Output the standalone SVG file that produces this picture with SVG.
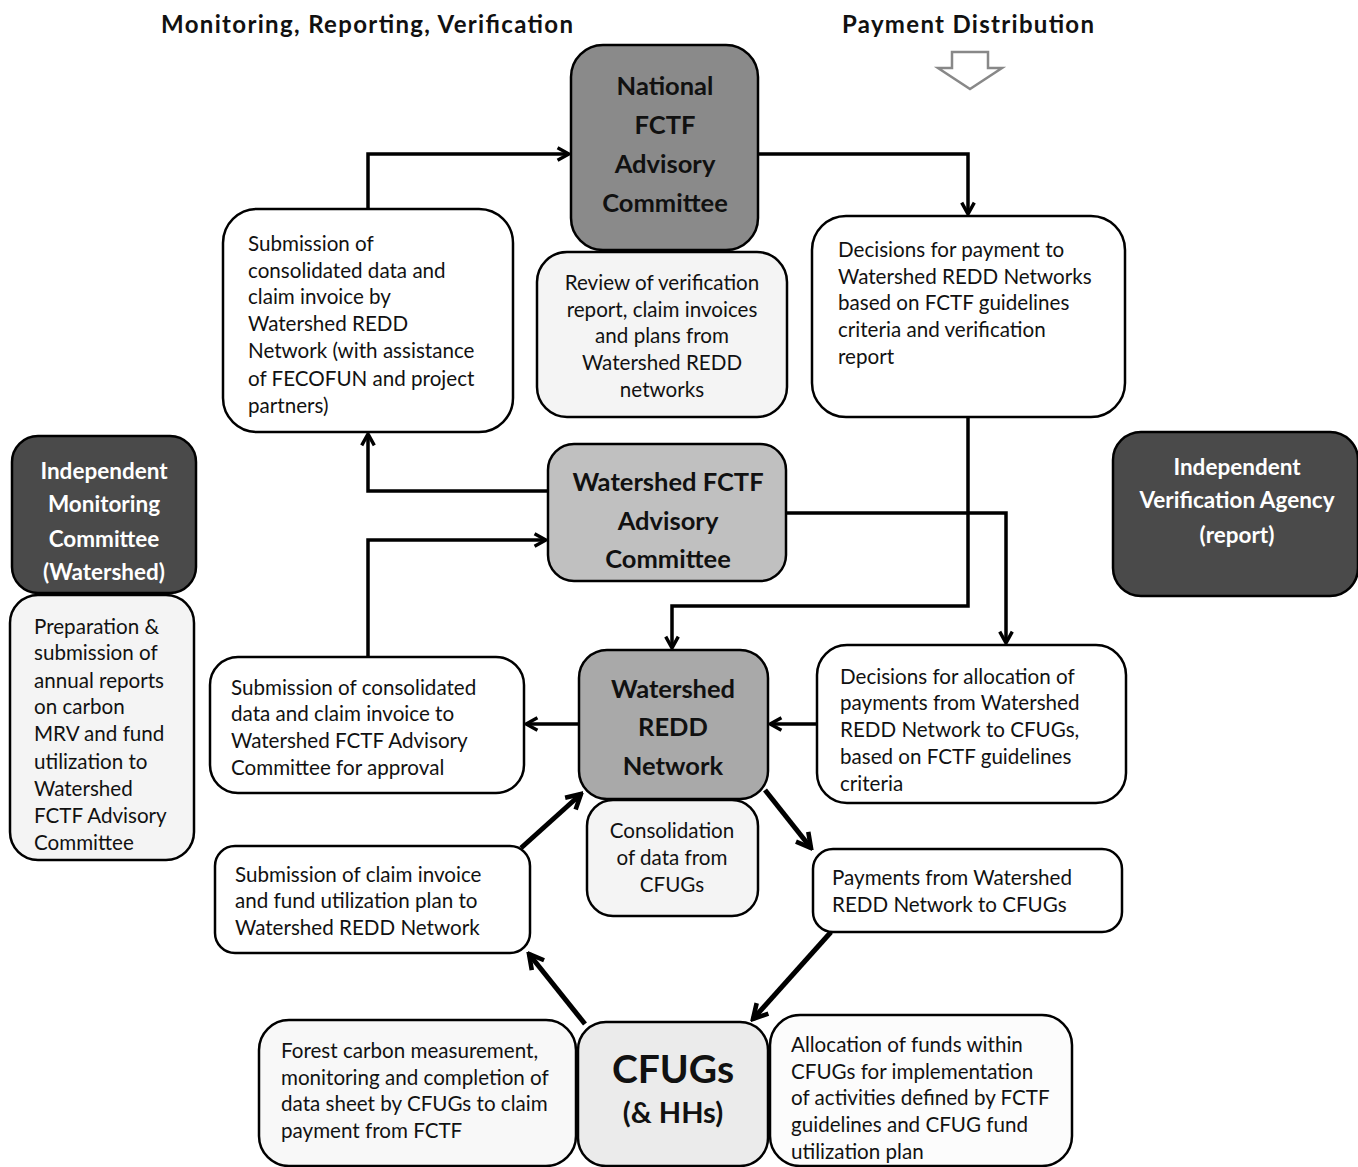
<svg xmlns="http://www.w3.org/2000/svg" width="1358" height="1167" viewBox="0 0 1358 1167">
<style>
.box{stroke:#000;stroke-width:2.5}
.t{font-family:Lato,"Open Sans","Liberation Sans",sans-serif;font-size:20.6px;fill:#111}
.h{font-family:Lato,"Open Sans","Liberation Sans",sans-serif;font-weight:bold;fill:#111}
.w{fill:#fff}
.c{stroke:#000;stroke-width:3.5;fill:none}
.d{stroke:#000;stroke-width:5;fill:none}
</style>
<defs>
<marker id="a" viewBox="0 0 14 14" refX="12" refY="7" markerWidth="16" markerHeight="16" markerUnits="userSpaceOnUse" orient="auto">
<path d="M2,1.5 L12,7 L2,12.5" fill="none" stroke="#000" stroke-width="3"/>
</marker>
<marker id="b" viewBox="0 0 14 14" refX="12" refY="7" markerWidth="20" markerHeight="20" markerUnits="userSpaceOnUse" orient="auto">
<path d="M2,1.5 L12,7 L2,12.5" fill="none" stroke="#000" stroke-width="3.2"/>
</marker>
</defs>
<rect width="1358" height="1167" fill="#fff"/>
<g id="titles">
<text class="h" x="161" y="33" font-size="24" textLength="412" lengthAdjust="spacing">Monitoring, Reporting, Verification</text>
<text class="h" x="842" y="33" font-size="24" textLength="252" lengthAdjust="spacing">Payment Distribution</text>
<path d="M952,52 H988 V68 H1002 L970,89 L938,68 H952 Z" fill="#fff" stroke="#888" stroke-width="2.5"/>
</g>
<g id="connectors">
<path class="c" d="M368,209 V154 H569" marker-end="url(#a)"/>
<path class="c" d="M758,154 H968 V214" marker-end="url(#a)"/>
<path class="c" d="M548,491 H368 V434" marker-end="url(#a)"/>
<path class="c" d="M368,657 V540 H546" marker-end="url(#a)"/>
<path class="c" d="M968,417 V606 H672 V648" marker-end="url(#a)"/>
<path class="c" d="M786,513 H1006 V643" marker-end="url(#a)"/>
<path class="c" d="M579,724 H526" marker-end="url(#a)"/>
<path class="c" d="M817,724 H770" marker-end="url(#a)"/>
<path class="d" d="M521,848 L581,794" marker-end="url(#b)"/>
<path class="d" d="M765,790 L811,848" marker-end="url(#b)"/>
<path class="d" d="M831,932 L753,1019" marker-end="url(#b)"/>
<path class="d" d="M585,1024 L529,954" marker-end="url(#b)"/>
</g>
<g id="national">
<rect class="box" x="571" y="45" width="187" height="205" rx="32" fill="#8a8a8a"/>
<text class="h" font-size="25.5" text-anchor="middle" x="665"><tspan x="665" y="95">National</tspan><tspan x="665" y="134">FCTF</tspan><tspan x="665" y="173">Advisory</tspan><tspan x="665" y="212">Committee</tspan></text>
</g>
<g id="review">
<rect class="box" x="537" y="252" width="250" height="165" rx="30" fill="#f4f4f4"/>
<text class="t" text-anchor="middle"><tspan x="662" y="290">Review of verification</tspan><tspan x="662" y="317">report, claim invoices</tspan><tspan x="662" y="343">and plans from</tspan><tspan x="662" y="370">Watershed REDD</tspan><tspan x="662" y="397">networks</tspan></text>
</g>
<g id="submission-top">
<rect class="box w" x="223" y="209" width="290" height="223" rx="34"/>
<text class="t"><tspan x="248" y="251">Submission of</tspan><tspan x="248" y="278">consolidated data and</tspan><tspan x="248" y="304">claim invoice by</tspan><tspan x="248" y="331">Watershed REDD</tspan><tspan x="248" y="358">Network (with assistance</tspan><tspan x="248" y="386">of FECOFUN and project</tspan><tspan x="248" y="413">partners)</tspan></text>
</g>
<g id="decisions-payment">
<rect class="box w" x="812" y="216" width="313" height="201" rx="34"/>
<text class="t"><tspan x="838" y="257">Decisions for payment to</tspan><tspan x="838" y="284">Watershed REDD Networks</tspan><tspan x="838" y="310">based on FCTF guidelines</tspan><tspan x="838" y="337">criteria and verification</tspan><tspan x="838" y="364">report</tspan></text>
</g>
<g id="monitoring-committee">
<rect class="box" x="12" y="436" width="184" height="157" rx="26" fill="#4a4a4a"/>
<text class="h" font-size="22.5" text-anchor="middle" style="fill:#fff"><tspan x="104" y="479">Independent</tspan><tspan x="104" y="512">Monitoring</tspan><tspan x="104" y="547">Committee</tspan><tspan x="104" y="580">(Watershed)</tspan></text>
</g>
<g id="preparation">
<rect class="box" x="10" y="595" width="184" height="265" rx="28" fill="#f4f4f4"/>
<text class="t"><tspan x="34" y="634">Preparation &amp;</tspan><tspan x="34" y="660">submission of</tspan><tspan x="34" y="688">annual reports</tspan><tspan x="34" y="714">on carbon</tspan><tspan x="34" y="741">MRV and fund</tspan><tspan x="34" y="769">utilization to</tspan><tspan x="34" y="796">Watershed</tspan><tspan x="34" y="823">FCTF Advisory</tspan><tspan x="34" y="850">Committee</tspan></text>
</g>
<g id="watershed-fctf">
<rect class="box" x="548" y="444" width="238" height="137" rx="26" fill="#c0c0c0"/>
<text class="h" font-size="25.5" text-anchor="middle"><tspan x="668" y="491">Watershed FCTF</tspan><tspan x="668" y="530">Advisory</tspan><tspan x="668" y="568">Committee</tspan></text>
</g>
<g id="verification-agency">
<rect class="box" x="1113" y="432" width="245" height="164" rx="28" fill="#4a4a4a"/>
<text class="h" font-size="22.5" text-anchor="middle" style="fill:#fff"><tspan x="1237" y="475">Independent</tspan><tspan x="1237" y="508">Verification Agency</tspan><tspan x="1237" y="543">(report)</tspan></text>
</g>
<g id="watershed-redd">
<rect class="box" x="579" y="650" width="189" height="149" rx="28" fill="#a9a9a9"/>
<text class="h" font-size="25.5" text-anchor="middle"><tspan x="673" y="698">Watershed</tspan><tspan x="673" y="736">REDD</tspan><tspan x="673" y="775">Network</tspan></text>
</g>
<g id="consolidation">
<rect class="box" x="587" y="800" width="171" height="116" rx="26" fill="#f4f4f4"/>
<text class="t" text-anchor="middle"><tspan x="672" y="838">Consolidation</tspan><tspan x="672" y="865">of data from</tspan><tspan x="672" y="892">CFUGs</tspan></text>
</g>
<g id="submission-mid">
<rect class="box w" x="210" y="657" width="314" height="136" rx="28"/>
<text class="t"><tspan x="231" y="695">Submission of consolidated</tspan><tspan x="231" y="721">data and claim invoice to</tspan><tspan x="231" y="748">Watershed FCTF Advisory</tspan><tspan x="231" y="775">Committee for approval</tspan></text>
</g>
<g id="decisions-allocation">
<rect class="box w" x="817" y="645" width="309" height="158" rx="30"/>
<text class="t"><tspan x="840" y="684">Decisions for allocation of</tspan><tspan x="840" y="710">payments from Watershed</tspan><tspan x="840" y="737">REDD Network to CFUGs,</tspan><tspan x="840" y="764">based on FCTF guidelines</tspan><tspan x="840" y="791">criteria</tspan></text>
</g>
<g id="submission-claim">
<rect class="box w" x="215" y="846" width="315" height="107" rx="20"/>
<text class="t"><tspan x="235" y="882">Submission of claim invoice</tspan><tspan x="235" y="908">and fund utilization plan to</tspan><tspan x="235" y="935">Watershed REDD Network</tspan></text>
</g>
<g id="payments">
<rect class="box w" x="813" y="849" width="309" height="83" rx="20"/>
<text class="t"><tspan x="832" y="885">Payments from Watershed</tspan><tspan x="832" y="912">REDD Network to CFUGs</tspan></text>
</g>
<g id="forest-carbon">
<rect class="box" x="259" y="1020" width="317" height="146" rx="30" fill="#f8f8f8"/>
<text class="t"><tspan x="281" y="1058">Forest carbon measurement,</tspan><tspan x="281" y="1085">monitoring and completion of</tspan><tspan x="281" y="1111">data sheet by CFUGs to claim</tspan><tspan x="281" y="1138">payment from FCTF</tspan></text>
</g>
<g id="cfugs">
<rect class="box" x="578" y="1022" width="190" height="144" rx="28" fill="#ebebeb"/>
<text class="h" font-size="39" text-anchor="middle" x="673" y="1083">CFUGs</text>
<text class="h" font-size="29" text-anchor="middle" x="673" y="1123">(&amp; HHs)</text>
</g>
<g id="allocation-funds">
<rect class="box" x="770" y="1015" width="302" height="151" rx="30" fill="#fcfcfc"/>
<text class="t"><tspan x="791" y="1052">Allocation of funds within</tspan><tspan x="791" y="1079">CFUGs for implementation</tspan><tspan x="791" y="1105">of activities defined by FCTF</tspan><tspan x="791" y="1132">guidelines and CFUG fund</tspan><tspan x="791" y="1159">utilization plan</tspan></text>
</g>
</svg>
